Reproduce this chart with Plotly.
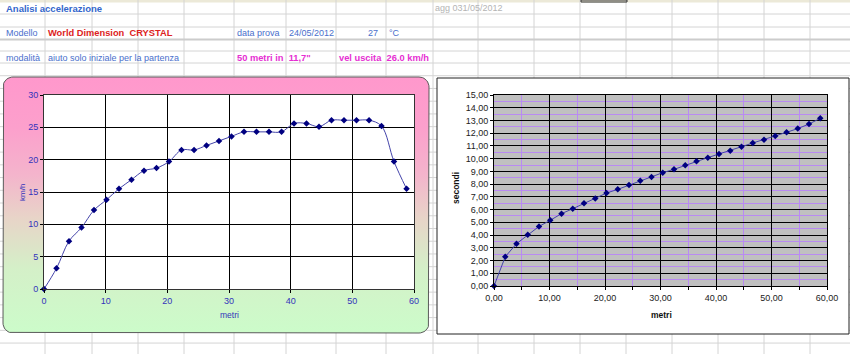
import numpy as np
import plotly.graph_objects as go

W, H = 850, 354

# ---------------- data ----------------
metri = [0.00, 2.03, 4.05, 6.08, 8.11, 10.14, 12.16, 14.19, 16.22, 18.24,
         20.27, 22.30, 24.33, 26.35, 28.38, 30.41, 32.43, 34.46, 36.49, 38.52,
         40.54, 42.57, 44.60, 46.62, 48.65, 50.68, 52.71, 54.73, 56.76, 58.79]
velocita_kmh = [0.0, 3.2, 7.4, 9.5, 12.2, 13.8, 15.5, 16.9, 18.3, 18.7,
                19.7, 21.5, 21.5, 22.2, 22.9, 23.6, 24.3, 24.3, 24.3, 24.3,
                25.6, 25.6, 25.1, 26.1, 26.1, 26.1, 26.1, 25.2, 19.7, 15.5]
tempo_s = [0.00, 2.30, 3.32, 4.03, 4.68, 5.16, 5.68, 6.07, 6.49, 6.88,
           7.30, 7.59, 7.93, 8.27, 8.56, 8.90, 9.16, 9.48, 9.79, 10.08,
           10.37, 10.63, 10.94, 11.23, 11.49, 11.78, 12.07, 12.36, 12.72, 13.17]

FONT = "Liberation Sans, Arial, sans-serif"
BLUE_T = "#3366cc"
BLUE = "#4a6fcc"
RED = "#dd2222"
MAG = "#e62ed2"
AXBLUE = "#3333bb"
PURPLE = "#b98af2"


def px(x):
    return x / W


def py(y):
    return 1 - y / H


fig = go.Figure()

# ---------------- background subplot (pixel space) ----------------
# rounded rectangle for the left chart area
L0, R0, T0, B0, RAD = 3, 429, 77, 333, 10
pts = []
for cx, cy, a0 in [(R0 - RAD, T0 + RAD, -90), (R0 - RAD, B0 - RAD, 0),
                   (L0 + RAD, B0 - RAD, 90), (L0 + RAD, T0 + RAD, 180)]:
    for a in np.linspace(a0, a0 + 90, 10):
        pts.append((cx + RAD * np.cos(np.radians(a)), cy + RAD * np.sin(np.radians(a))))
pts.append(pts[0])
bx = [p[0] for p in pts]
by = [H - p[1] for p in pts]
fig.add_trace(go.Scatter(
    x=bx, y=by, mode="lines", fill="toself",
    fillgradient=dict(type="vertical",
                      colorscale=[[0, "#ccfcca"], [0.25, "#d4f0c8"], [0.45, "#e8d4c8"],
                                  [0.62, "#f4b4cc"], [0.8, "#fca0cc"], [1, "#ff98cc"]]),
    line=dict(color="#5a5a5a", width=1),
    hoverinfo="skip", xaxis="x", yaxis="y", showlegend=False))

# ---------------- left chart ----------------
fig.add_trace(go.Scatter(
    x=metri, y=velocita_kmh, mode="lines+markers",
    line=dict(color="#4444aa", width=1, shape="spline", smoothing=1.0),
    marker=dict(symbol="diamond", size=5, color="#000080"),
    xaxis="x2", yaxis="y2", showlegend=False, cliponaxis=False))

# ---------------- right chart ----------------
fig.add_trace(go.Scatter(
    x=metri, y=tempo_s, mode="lines+markers",
    line=dict(color="#4444aa", width=1),
    marker=dict(symbol="diamond", size=5, color="#000080"),
    xaxis="x3", yaxis="y3", showlegend=False, cliponaxis=False))

shapes = []
GRID = "#d4d4d4"
# spreadsheet header strip
shapes.append(dict(type="rect", xref="paper", yref="paper", x0=0, x1=1, y0=py(2.5), y1=1,
                   fillcolor="#ece9d8", line=dict(width=0), layer="below"))
cols = [45, 92, 138, 184, 234, 286, 336, 386, 433, 478, 534, 580, 626, 672, 718, 764, 810]
rows = [14, 27, 51, 63] + [63 + 12.73 * k for k in range(1, 23)]
for c in cols:
    shapes.append(dict(type="line", xref="paper", yref="paper", x0=px(c), x1=px(c), y0=0, y1=1,
                       line=dict(color=GRID, width=1), layer="below"))
for r in rows:
    shapes.append(dict(type="line", xref="paper", yref="paper", x0=0, x1=1, y0=py(r), y1=py(r),
                       line=dict(color=GRID, width=1), layer="below"))
shapes.append(dict(type="line", xref="paper", yref="paper", x0=0, x1=1, y0=py(39.5), y1=py(39.5),
                   line=dict(color="#cccccc", width=2), layer="below"))
# selected cell border in header
shapes.append(dict(type="rect", xref="paper", yref="paper", x0=px(581), x1=px(627), y0=py(2), y1=1,
                   fillcolor="rgba(0,0,0,0)", line=dict(color="#333333", width=1), layer="below"))
# right chart box
shapes.append(dict(type="rect", xref="paper", yref="paper", x0=px(437), x1=px(849), y0=py(334), y1=py(78),
                   fillcolor="white", line=dict(color="#222222", width=1), layer="below"))
# plot area fills
shapes.append(dict(type="rect", xref="x2", yref="y2", x0=0, x1=60, y0=0, y1=30,
                   fillcolor="white", line=dict(width=0), layer="below"))
shapes.append(dict(type="rect", xref="x3", yref="y3", x0=0, x1=60, y0=0, y1=15,
                   fillcolor="#c0c0c0", line=dict(width=0), layer="below"))

ann = []


def text(x, y, s, color, size=9, bold=False, xanchor="left", angle=0):
    ann.append(dict(x=px(x), y=py(y), xref="paper", yref="paper", text=(f"<b>{s}</b>" if bold else s),
                    showarrow=False, xanchor=xanchor, yanchor="middle", textangle=angle,
                    font=dict(family=FONT, size=size, color=color)))


NB = "\u00a0"
text(4, 8.5, "Analisi accelerazione", BLUE_T, 9.5, True)
text(433, 8.5, "agg 031/05/2012", "#b4b4b4", 9)
text(4, 33, "Modello", BLUE, 9)
text(46, 33, f"World Dimension{NB}{NB}CRYSTAL", RED, 9.3, True)
text(235, 33, "data prova", BLUE, 9)
text(287, 33, "24/05/2012", BLUE, 9)
text(380, 33, "27", BLUE, 9, xanchor="right")
text(387, 33, "°C", BLUE, 9)
text(4, 58, "modalità", BLUE, 9)
text(46, 58, "aiuto solo iniziale per la partenza", BLUE, 9)
text(235, 58, f"50 metri in{NB}{NB}11,7\"", MAG, 9.3, True)
text(337, 58, f"vel uscita{NB}{NB}26.0 km/h", MAG, 9.3, True)
# axis titles
text(22, 193, "km/h", AXBLUE, 8, xanchor="center", angle=-90)
text(229, 315, "metri", AXBLUE, 8.5, xanchor="center")
text(456, 188, "secondi", "#111111", 8.5, True, xanchor="center", angle=-90)
text(661, 315, "metri", "#111111", 8.5, True, xanchor="center")

common = dict(showline=True, mirror=True, zeroline=False, fixedrange=True, ticks="outside",
              ticklen=3, tickcolor="#000000", gridwidth=1, automargin=False)

fig.update_layout(
    width=W, height=H, margin=dict(l=0, r=0, t=0, b=0, pad=0, autoexpand=False),
    paper_bgcolor="white", plot_bgcolor="rgba(0,0,0,0)",
    separators=",.", showlegend=False,
    font=dict(family=FONT),
    shapes=shapes, annotations=ann,
    xaxis=dict(domain=[0, 1], range=[0, W], visible=False, fixedrange=True),
    yaxis=dict(domain=[0, 1], range=[0, H], visible=False, fixedrange=True),
    xaxis2=dict(domain=[px(44), px(414)], anchor="y2", range=[0, 60], tick0=0, dtick=10,
                showgrid=True, gridcolor="#000000", linecolor="#333333",
                tickfont=dict(size=9, color=AXBLUE, family=FONT), **common),
    yaxis2=dict(domain=[py(289), py(95)], anchor="x2", range=[0, 30], tick0=0, dtick=5,
                showgrid=True, gridcolor="#000000", linecolor="#333333",
                tickfont=dict(size=9, color=AXBLUE, family=FONT), **common),
    xaxis3=dict(domain=[px(494), px(827)], anchor="y3", range=[0, 60], tick0=0, dtick=10,
                tickformat=".2f", showgrid=True, gridcolor="#000000", linecolor="#000000",
                minor=dict(dtick=5, showgrid=True, gridcolor=PURPLE, gridwidth=1, ticks="outside",
                           ticklen=3, tickcolor="#000000"),
                tickfont=dict(size=9, color="#222222", family=FONT), **common),
    yaxis3=dict(domain=[py(286), py(95)], anchor="x3", range=[0, 15], tick0=0, dtick=1,
                tickformat=".2f", showgrid=True, gridcolor="#000000", linecolor="#000000",
                minor=dict(dtick=0.5, showgrid=True, gridcolor=PURPLE, gridwidth=1),
                tickfont=dict(size=9, color="#222222", family=FONT), **common),
)

fig.write_html("out.html",
               post_script="document.body.style.margin='0';document.body.style.padding='0';")
